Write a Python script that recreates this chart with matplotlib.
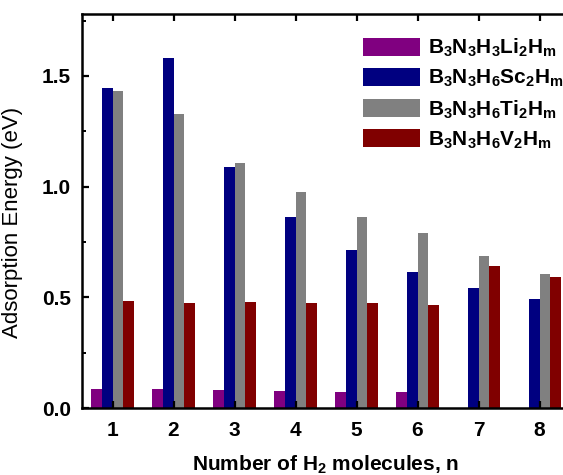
import matplotlib
matplotlib.use("Agg")
import matplotlib.pyplot as plt
from matplotlib.ticker import MultipleLocator
import numpy as np

# ── Data ──────────────────────────────────────────────────────────────────────
n_h2 = [1, 2, 3, 4, 5, 6, 7, 8]

li_energy = [0.086, 0.086, 0.081, 0.077, 0.072, 0.072, np.nan, np.nan]
sc_energy = [1.444, 1.582, 1.091, 0.862, 0.714, 0.613, 0.541, 0.491]
ti_energy = [1.431, 1.329, 1.107, 0.974, 0.864, 0.789, 0.685, 0.607]
v_energy = [0.485, 0.476, 0.480, 0.476, 0.476, 0.467, 0.641, 0.593]

series_labels = [
    r"$\mathbf{B_3N_3H_3Li_2H_m}$",
    r"$\mathbf{B_3N_3H_6Sc_2H_m}$",
    r"$\mathbf{B_3N_3H_6Ti_2H_m}$",
    r"$\mathbf{B_3N_3H_6V_2H_m}$",
]
series_colors = ["#800080", "#000080", "#808080", "#800000"]

# ── Style ─────────────────────────────────────────────────────────────────────
plt.rcParams["font.family"] = ["Liberation Sans", "DejaVu Sans"]
plt.rcParams["mathtext.fontset"] = "custom"
plt.rcParams["mathtext.rm"] = "Liberation Sans"
plt.rcParams["mathtext.bf"] = "Liberation Sans:bold"

fig = plt.figure(figsize=(5.63, 4.75), dpi=100)
ax = fig.add_axes([82 / 563, 67 / 475, 488 / 563, 394 / 475])

x = np.array(n_h2, dtype=float)
width = 0.177
all_series = [li_energy, sc_energy, ti_energy, v_energy]
for i, (vals, color, label) in enumerate(zip(all_series, series_colors, series_labels)):
    ax.bar(x + (i - 1.5) * width, vals, width=width, color=color,
           label=label, linewidth=0)

ax.set_xlim(0.5, 8.5)
ax.set_ylim(0, 1.78)
ax.set_xticks(n_h2)
ax.yaxis.set_major_locator(MultipleLocator(0.5))
ax.yaxis.set_minor_locator(MultipleLocator(0.25))
ax.yaxis.set_major_formatter(plt.FormatStrFormatter("%.1f"))

for side in ax.spines.values():
    side.set_linewidth(1.8)

ax.tick_params(axis="both", which="major", direction="in", length=5, width=1.6,
               top=True, right=True, labelsize=15)
ax.tick_params(axis="y", which="minor", direction="in", length=3, width=1.4,
               right=True)
ax.tick_params(axis="x", which="major", pad=9)
ax.tick_params(axis="y", which="major", pad=8)
for lbl in ax.get_xticklabels() + ax.get_yticklabels():
    lbl.set_fontweight("bold")

ax.set_ylabel("Adsorption Energy (eV)", fontsize=16)
ax.yaxis.set_label_coords(-0.121, 0.472)
ax.set_xlabel(r"Number of H$_\mathbf{2}$ molecules, n", fontsize=15,
              fontweight="bold")
ax.xaxis.set_label_coords(0.5, -0.114)

ax.legend(loc="upper left", bbox_to_anchor=(363 / 563, 1 - 37 / 475),
          bbox_transform=fig.transFigure, frameon=False, fontsize=15,
          handlelength=2.75, handleheight=0.95, handletextpad=0.35,
          labelspacing=0.42, borderpad=0, borderaxespad=0)

fig.savefig("out.png", dpi=100)
